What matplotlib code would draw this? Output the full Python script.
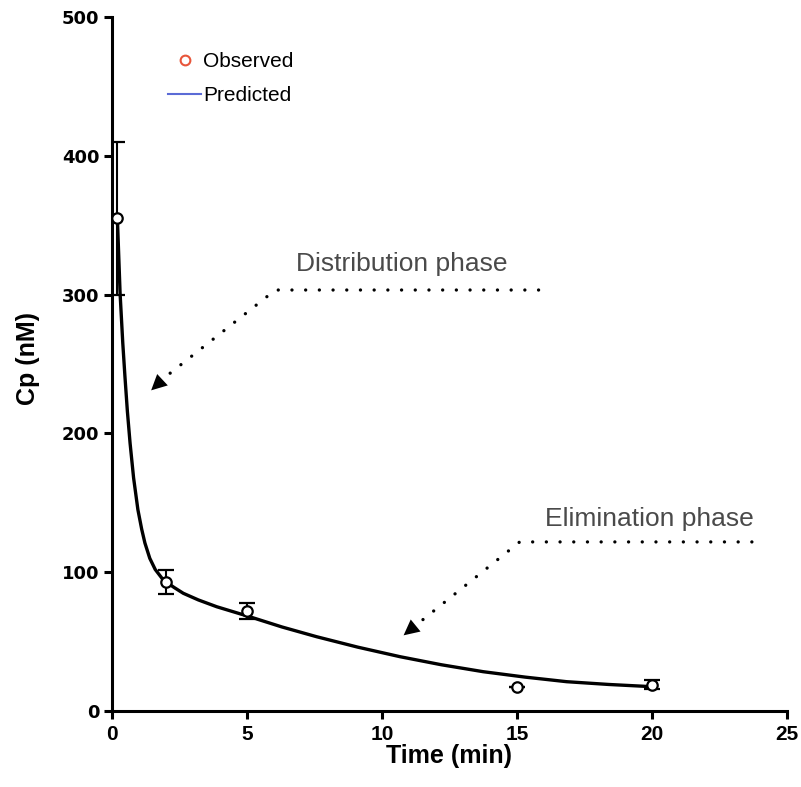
import numpy as np
import matplotlib.pyplot as plt

plt.rcParams['font.family'] = ['Liberation Sans', 'DejaVu Sans']

# observed concentrations (mean, error)
t_obs = [0.2, 2, 5, 15, 20]
cp_obs = [355, 93, 72, 17.5, 19]
cp_err = [55, 8.5, 5.5, 0, 3.5]

# predicted curve
t_pred = [0.2, 0.3, 0.4, 0.48, 0.57, 0.67, 0.8, 0.96, 1.1, 1.22, 1.4, 1.6, 1.9,
          2.3, 2.64, 3.2, 3.88, 5.1, 6.3, 7.58, 9.1, 10.67, 12.2, 13.75, 15.3, 16.84, 18.4, 20]
cp_pred = [355, 301, 265, 241, 216, 193, 168, 145, 131, 121, 110, 102, 94.4,
           89, 84.8, 80, 75.1, 67.9, 60.5, 53.5, 46, 39.1, 33.3, 28.3, 24.4, 21.1, 19.1, 17.5]

fig = plt.figure(figsize=(8.01, 7.87), dpi=100)
ax = fig.add_axes([0.1398, 0.0966, 0.8427, 0.8818])

ax.plot(t_pred, cp_pred, color='black', lw=2.4, zorder=3)
ax.errorbar(t_obs, cp_obs, yerr=cp_err, fmt='o', mfc='white', mec='black', mew=1.6,
            ms=7.5, ecolor='black', elinewidth=1.5, capsize=6, capthick=1.8, zorder=4)

# legend entries
ax.plot([], [], 'o', mfc='none', mec='#e8553a', mew=1.5, ms=7, label='Observed')
ax.plot([], [], '-', color='#5b6bd6', lw=1.5, label='Predicted')
ax.legend(loc='upper left', bbox_to_anchor=(0.062, 0.97), frameon=False, fontsize=15,
          handlelength=1.55, handletextpad=0.1, labelspacing=0.72, borderaxespad=0.3)

dot = dict(color='black', lw=2.4, linestyle=(0, (0.01, 4.1)), dash_capstyle='round', zorder=2)
# Distribution phase
ax.text(10.75, 322, 'Distribution phase', fontsize=19, color='#4a4a4a', ha='center', va='center')
ax.plot([15.8, 6.05, 2.0], [303.3, 303.3, 241], **dot)
ax.annotate('', xy=(1.45, 231), xytext=(2.0, 241),
            arrowprops=dict(arrowstyle='-|>', mutation_scale=28, color='black', lw=0, shrinkA=0, shrinkB=0))
# Elimination phase
ax.text(19.9, 138, 'Elimination phase', fontsize=19, color='#4a4a4a', ha='center', va='center')
ax.plot([23.7, 15.1, 11.4], [121.8, 121.8, 64], **dot)
ax.annotate('', xy=(10.8, 54.5), xytext=(11.4, 64),
            arrowprops=dict(arrowstyle='-|>', mutation_scale=28, color='black', lw=0, shrinkA=0, shrinkB=0))

ax.set_xlim(0, 25)
ax.set_ylim(0, 500)
ax.set_xticks(range(0, 26, 5))
ax.set_yticks(range(0, 501, 100))
ax.spines['top'].set_visible(False)
ax.spines['right'].set_visible(False)
for s in ['left', 'bottom']:
    ax.spines[s].set_linewidth(2.2)
ax.tick_params(width=2.2, length=6)
ax.tick_params(axis='x', labelsize=15, pad=4)
ax.tick_params(axis='y', labelsize=13, pad=3)
for lab in ax.get_xticklabels():
    lab.set_fontweight('bold')
for lab in ax.get_yticklabels():
    lab.set_fontweight('bold')
    lab.set_family('DejaVu Sans')
ax.set_xlabel('Time (min)', fontsize=18, fontweight='bold')
ax.set_ylabel('Cp (nM)', fontsize=18, fontweight='bold')
ax.xaxis.set_label_coords(0.5, -0.048)
ax.yaxis.set_label_coords(-0.107, 0.508)

plt.savefig('out.png', dpi=100)
